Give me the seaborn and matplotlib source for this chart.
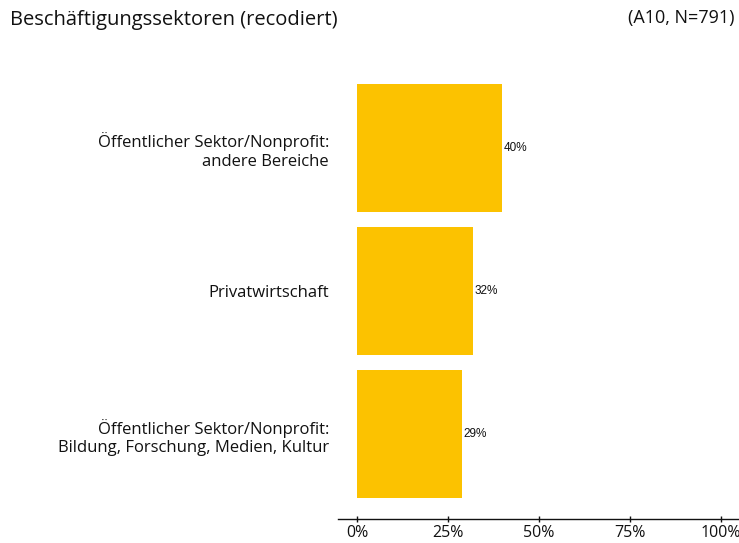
import matplotlib
matplotlib.use("Agg")
import matplotlib.pyplot as plt
import seaborn as sns
import pandas as pd
from matplotlib.ticker import PercentFormatter

categories = [
    "Öffentlicher Sektor/Nonprofit:\nandere Bereiche",
    "Privatwirtschaft",
    "Öffentlicher Sektor/Nonprofit:\nBildung, Forschung, Medien, Kultur",
]
shares = [0.40, 0.32, 0.29]
value_labels = ["40%", "32%", "29%"]
x_ticks = [0, 0.25, 0.5, 0.75, 1.0]

df = pd.DataFrame({"sektor": categories, "anteil": shares})

sns.set_style("white")
plt.rcParams["font.family"] = ["Open Sans", "DejaVu Sans"]
plt.rcParams["text.color"] = "#111111"

fig = plt.figure(figsize=(7.39, 5.43), dpi=100)
ax = fig.add_axes([338 / 739, 1 - 519 / 543, 1 - 338 / 739, (519 - 60) / 543])

sns.barplot(data=df, x="anteil", y="sektor", color="#FCC200", saturation=1,
            width=0.895, ax=ax, errorbar=None, linewidth=0)

for patch, lab in zip(ax.patches, value_labels):
    ax.text(patch.get_width() + 0.004, patch.get_y() + patch.get_height() / 2, lab,
            va="center", ha="left", fontsize=8.5, family="Liberation Sans", color="#111111")

ax.set_xlim(-0.052, 1.05)
ax.set_ylim(2.594, -0.615)
ax.set_xticks(x_ticks)
ax.xaxis.set_major_formatter(PercentFormatter(1.0, decimals=0))
ax.set_xlabel("")
ax.set_ylabel("")
for s in ["top", "right", "left"]:
    ax.spines[s].set_visible(False)
ax.spines["bottom"].set_color("#111111")
ax.spines["bottom"].set_linewidth(1)
ax.tick_params(axis="x", bottom=True, length=4, width=1, color="#111111",
               labelsize=11.5, labelcolor="#111111", pad=2, direction="inout")
ax.tick_params(axis="y", left=False, labelsize=12, labelcolor="#111111", pad=3)
for t in ax.get_yticklabels():
    t.set_ha("right")
    t.set_multialignment("right")

fig.text(10 / 739, 1 - 20 / 543, "Beschäftigungssektoren (recodiert)", fontsize=14.5,
         ha="left", va="center")
fig.text(735 / 739, 1 - 18 / 543, "(A10, N=791)", fontsize=13, ha="right", va="center")

fig.savefig("out.png", dpi=100)
